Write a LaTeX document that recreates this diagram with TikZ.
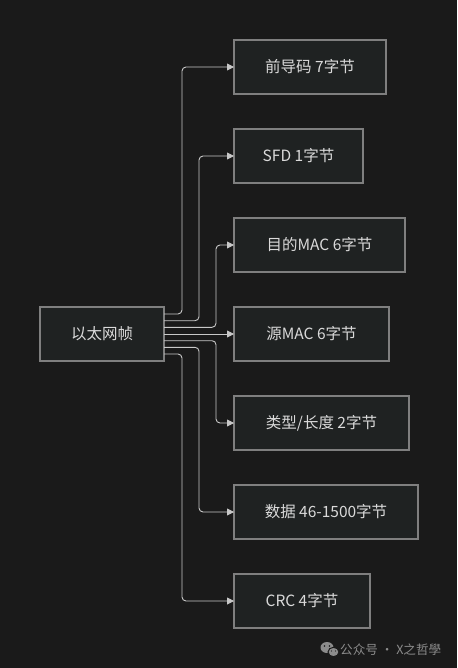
\documentclass[tikz,border=0pt]{standalone}
\usepackage{fontspec}
\setmainfont{Noto Sans CJK SC}
\usetikzlibrary{positioning, arrows.meta, shapes.geometric}
\definecolor{ethBg}{HTML}{1A1A1A}
\definecolor{ethFill}{HTML}{1F2222}
\definecolor{ethBorder}{HTML}{7F7F7F}
\definecolor{ethText}{HTML}{DADADA}
\definecolor{ethLine}{HTML}{C8C8C8}
\definecolor{ethMark}{HTML}{8C8C8C}
\tikzset{
    ethBox/.style={
        rectangle,
        draw=ethBorder,
        line width=1.5pt,
        fill=ethFill,
        text=ethText,
        minimum height=54pt,
        inner xsep=0pt,
        outer sep=0pt,
        font=\fontsize{15.5}{18}\selectfont,
        align=center
    },
    % one field of the frame
    field/.style={ethBox, anchor=west},
    % Arrows
    ethArrow/.style={-{Triangle[length=7pt, width=7pt]}, line width=0.9pt, draw=ethLine, rounded corners=4pt}
}

\begin{document}
\begin{tikzpicture}[x=1pt, y=1pt]
\fill[ethBg] (0,0) rectangle (457,-668);
\useasboundingbox (0,0) rectangle (457,-668);

\node[ethBox, minimum width=124pt] (frame) at (102,-334) {以太网帧};

\node[field, minimum width=152pt] (pre) at (234,-67) {前导码 7字节};
\node[field, minimum width=129pt, below=35pt of pre.south west, anchor=north west] (sfd) {SFD 1字节};
\node[field, minimum width=171pt, below=35pt of sfd.south west, anchor=north west] (dst) {目的MAC 6字节};
\node[field, minimum width=155pt, below=35pt of dst.south west, anchor=north west] (src) {源MAC 6字节};
\node[field, minimum width=175pt, below=35pt of src.south west, anchor=north west] (type) {类型/长度 2字节};
\node[field, minimum width=184pt, below=35pt of type.south west, anchor=north west] (data) {数据 46-1500字节};
\node[field, minimum width=136pt, below=35pt of data.south west, anchor=north west] (crc) {CRC 4字节};

\draw[ethArrow] ([yshift=20pt]frame.east) -- ++(18,0) |- (pre.west);
\draw[ethArrow] ([yshift=13.3pt]frame.east) -- ++(35,0) |- (sfd.west);
\draw[ethArrow] ([yshift=6.7pt]frame.east) -- ++(52,0) |- (dst.west);
\draw[ethArrow] (frame.east) -- (src.west);
\draw[ethArrow] ([yshift=-6.7pt]frame.east) -- ++(52,0) |- (type.west);
\draw[ethArrow] ([yshift=-13.3pt]frame.east) -- ++(35,0) |- (data.west);
\draw[ethArrow] ([yshift=-20pt]frame.east) -- ++(18,0) |- (crc.west);

% watermark
\fill[ethMark] (327,-647.5) ellipse [x radius=6.5, y radius=5.5];
\filldraw[fill=ethMark, draw=ethBg, line width=1pt] (333.5,-652) ellipse [x radius=5.5, y radius=4.7];
\fill[ethBg] (324.5,-646) circle (0.9) (329.5,-646) circle (0.9);
\fill[ethBg] (331.5,-651) circle (0.7) (335.5,-651) circle (0.7);
\node[anchor=west, text=ethMark, font=\fontsize{12.6}{14}\selectfont, inner sep=0pt] (mark) at (340,-650) {公众号 · X之哲學};
\end{tikzpicture}
\end{document}
